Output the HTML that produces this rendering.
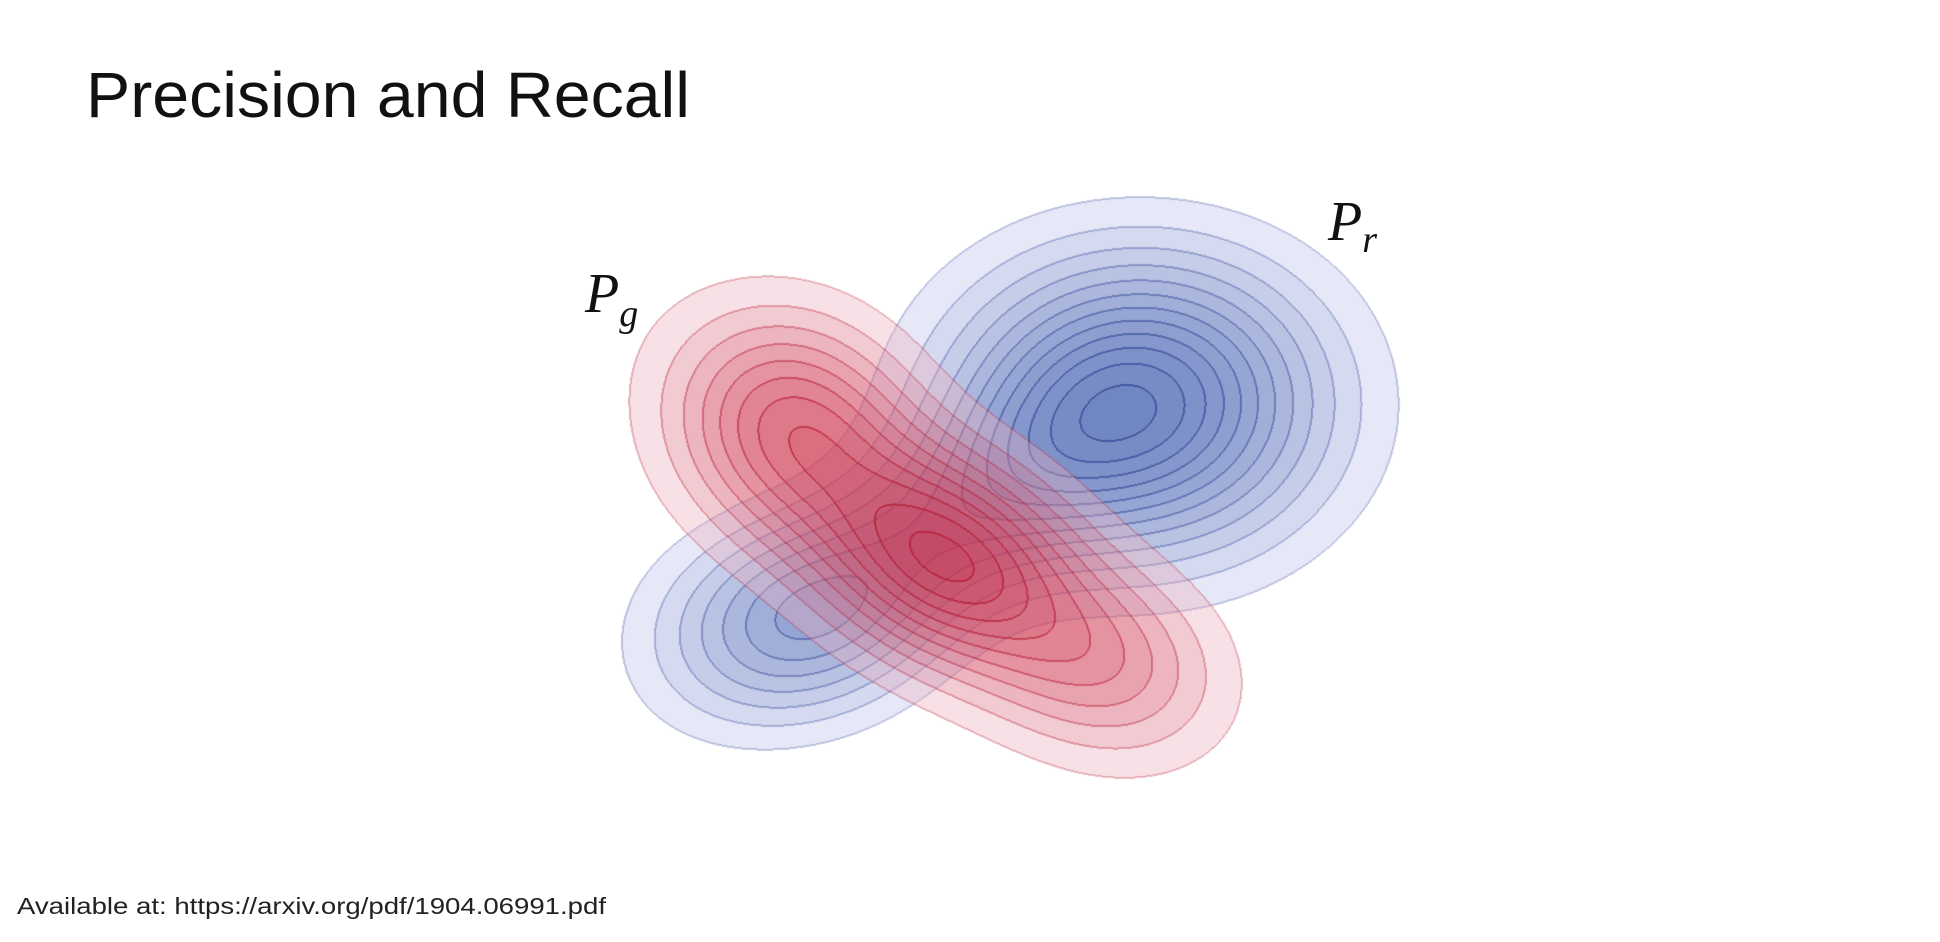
<!DOCTYPE html>
<html><head><meta charset="utf-8"><style>
html,body{margin:0;padding:0;background:#fff;}
#wrap{position:relative;width:1940px;height:942px;overflow:hidden;background:#fff;}
canvas{position:absolute;left:0;top:0;}
svg{position:absolute;left:0;top:0;}
</style></head><body>
<div id="wrap">
<canvas id="cv" width="1940" height="942"></canvas>
<svg width="1940" height="942">
<text x="86" y="117" font-family="Liberation Sans, sans-serif" font-size="64" fill="#111" textLength="604" lengthAdjust="spacingAndGlyphs">Precision and Recall</text>
<text x="585" y="312" font-family="Liberation Serif, serif" font-style="italic" font-size="56" fill="#111">P<tspan font-size="38" dy="14">g</tspan></text>
<text x="1328" y="240" font-family="Liberation Serif, serif" font-style="italic" font-size="56" fill="#111">P<tspan font-size="38" dy="12">r</tspan></text>
<text x="17" y="914" font-family="Liberation Sans, sans-serif" font-size="23" fill="#222" textLength="589" lengthAdjust="spacingAndGlyphs">Available at: https://arxiv.org/pdf/1904.06991.pdf</text>
</svg>
</div>
<script>
// Blue (P_r) mixture components
const blueCx=[1138,790,950];
const blueCy=[405,622,520];
const blueSx=[125,95,150];
const blueSy=[100,68,62];
const blueAng=[0,-10,-33];
const blueW=[1.0,0.5,0.4];
// Red (P_g) mixture components
const redCx=[946,790,1105,900];
const redCy=[560,425,662,520];
const redSx=[90,80,82,170];
const redSy=[64,73,62,74];
const redAng=[25,30,20,38];
const redW=[1.0,0.75,0.5,0.3];
const blueLevels=12, redLevels=10;

function dens(cx,cy,sx,sy,ang,w,x,y){
  let s=0;
  for(let i=0;i<cx.length;i++){
    const a=ang[i]*Math.PI/180, c=Math.cos(a), sn=Math.sin(a);
    const dx=x-cx[i], dy=y-cy[i];
    const u=dx*c+dy*sn, v=-dx*sn+dy*c;
    s+=w[i]*Math.exp(-0.5*(u*u/(sx[i]*sx[i])+v*v/(sy[i]*sy[i])));
  }
  return s;
}
const cv=document.getElementById('cv'),ctx=cv.getContext('2d');
const X0=440,Y0=130,W=1120,H=740;
const fb=new Float32Array(W*H),fr=new Float32Array(W*H);
let mb=0,mr=0;
for(let j=0;j<H;j++)for(let i=0;i<W;i++){
  const b=dens(blueCx,blueCy,blueSx,blueSy,blueAng,blueW,X0+i,Y0+j);
  const r=dens(redCx,redCy,redSx,redSy,redAng,redW,X0+i,Y0+j);
  fb[j*W+i]=b;fr[j*W+i]=r;if(b>mb)mb=b;if(r>mr)mr=r;
}
function lev(f,m,n){const l0=0.1*m,top=0.96*m;if(f<l0)return 0;return Math.min(n,1+Math.floor((f-l0)/((top-l0)/(n-1))));}
const kb=new Uint8Array(W*H),kr=new Uint8Array(W*H);
for(let p=0;p<W*H;p++){kb[p]=lev(fb[p],mb,blueLevels);kr[p]=lev(fr[p],mr,redLevels);}
const img=ctx.createImageData(W,H),d=img.data;
function blend(c,col,a){c[0]=c[0]*(1-a)+col[0]*a;c[1]=c[1]*(1-a)+col[1]*a;c[2]=c[2]*(1-a)+col[2]*a;}
for(let j=0;j<H;j++)for(let i=0;i<W;i++){
  const p=j*W+i,c=[255,255,255];
  const b=kb[p],r=kr[p];
  if(b>0){blend(c,[200,205,240],0.45);blend(c,[60,90,170],1-Math.pow(0.9,b-1));}
  const eb=(i<W-1&&kb[p+1]!==b)||(j<H-1&&kb[p+W]!==b)||(i>0&&kb[p-1]!==b)||(j>0&&kb[p-W]!==b);
  if(eb)blend(c,[50,70,150],0.25+0.04*Math.max(b,kb[p+1]||0));
  if(r>0){blend(c,[235,170,185],0.35);blend(c,[200,30,55],1-Math.pow(0.88,r-1));}
  const er=(i<W-1&&kr[p+1]!==r)||(j<H-1&&kr[p+W]!==r)||(i>0&&kr[p-1]!==r)||(j>0&&kr[p-W]!==r);
  if(er)blend(c,[180,25,50],0.25+0.05*Math.max(r,kr[p+1]||0));
  const q=p*4;d[q]=c[0];d[q+1]=c[1];d[q+2]=c[2];d[q+3]=255;
}
ctx.fillStyle='#fff';ctx.fillRect(0,0,1940,942);
ctx.putImageData(img,X0,Y0);
</script>
</body></html>
